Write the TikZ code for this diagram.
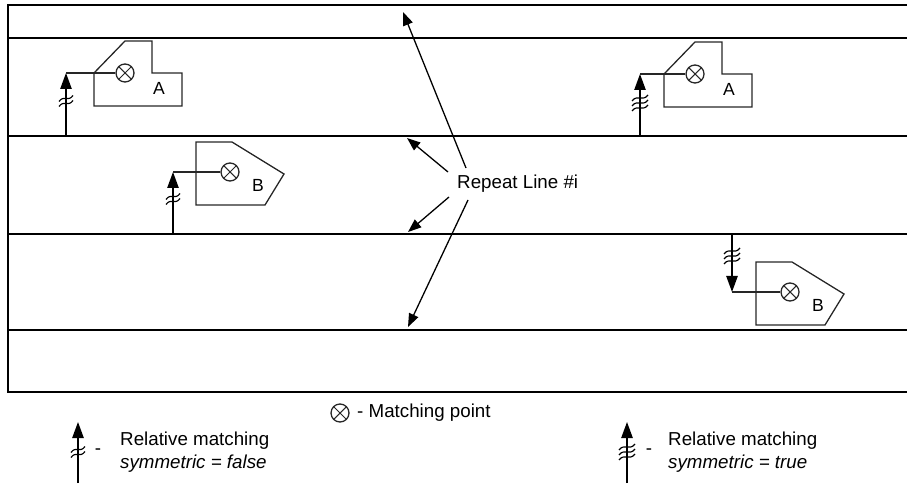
\documentclass[tikz,border=0pt]{standalone}
\usepackage{fontspec}
\setmainfont{Liberation Sans}
\usetikzlibrary{arrows.meta,positioning,calc}

\tikzset{
  rline/.style={line width=1.6pt},
  outline/.style={draw=black!85, line width=1.1pt},
  conn/.style={draw=black!85, line width=1.1pt},
  relarrow/.style={line width=1.3pt, -{Triangle[length=0.48cm,width=0.34cm]}},
  rarrow/.style={line width=1.1pt, -{Triangle[length=0.4cm,width=0.3cm]}},
  mpoint/.style={circle, draw=black!85, line width=1.1pt, minimum size=0.54cm, inner sep=0pt,
    path picture={\draw[line width=0.9pt]
      (path picture bounding box.south west) -- (path picture bounding box.north east)
      (path picture bounding box.north west) -- (path picture bounding box.south east);}},
  letter/.style={font=\fontsize{15}{17}\selectfont, inner sep=0pt},
  txt/.style={font=\fontsize{16}{20}\selectfont, inner sep=0pt},
  brk/.style={line width=1pt},
  partA/.pic={
    \draw[outline] (-31,0) -- (0,-32) -- (27,-32) -- (27,0) -- (57,0) -- (57,33) -- (-31,33) -- cycle;
    \node[mpoint] (-mp) at (0,0) {};
    \node[letter] (-lbl) at (34,15) {A};
  },
  partB/.pic={
    \draw[outline] (-34,-30) -- (2,-30) -- (54,2) -- (35,33) -- (-34,33) -- cycle;
    \node[mpoint] (-mp) at (0,0) {};
    \node[letter] (-lbl) at (28,13) {B};
  },
  brkf/.pic={
    \foreach \k in {-2.5,2.5}
      \draw[brk] (-7,3+\k) .. controls (-2,-4+\k) and (2,4+\k) .. (7,-3+\k);
  },
  brkt/.pic={
    \foreach \k in {-5,0,5}
      \draw[brk] (-8,3+\k) .. controls (-3,-4+\k) and (3,4+\k) .. (8,-3+\k);
  },
}

\begin{document}
\begin{tikzpicture}[x=0.03cm, y=-0.03cm]
\useasboundingbox (0,0) rectangle (907,487);

% frame and repeat lines
\draw[rline] (907,5) -- (8,5) -- (8,392) -- (907,392);
\foreach \y in {38,136,234,330}
  \draw[rline] (8,\y) -- (907,\y);

% parts
\pic (a1) at (125,73) {partA};
\pic (a2) at (695,74) {partA};
\pic (b1) at (230,172) {partB};
\pic (b2) at (790,292) {partB};

% relative matching, symmetric = false
\coordinate (a1c) at (66,73);
\coordinate (a1r) at (66,136);
\draw[relarrow] (a1r) -- (a1c);
\draw[conn] (a1c) -- (a1-mp);
\pic at (66,101) {brkf};

\coordinate (b1c) at (173,172);
\coordinate (b1r) at (173,234);
\draw[relarrow] (b1r) -- (b1c);
\draw[conn] (b1c) -- (b1-mp);
\pic at (173,199) {brkf};

% relative matching, symmetric = true
\coordinate (a2c) at (640,74);
\coordinate (a2r) at (640,136);
\draw[relarrow] (a2r) -- (a2c);
\draw[conn] (a2c) -- (a2-mp);
\pic at (640,103) {brkt};

\coordinate (b2c) at (732,292);
\coordinate (b2r) at (732,234);
\draw[relarrow] (b2r) -- (b2c);
\draw[conn] (b2c) -- (b2-mp);
\pic at (732,256) {brkt};

% repeat line label
\node[txt, anchor=west] (rl) at (457,184) {Repeat Line \#i};
\coordinate (t1) at (403,12);
\coordinate (t2) at (407,138);
\coordinate (t3) at (408,232);
\coordinate (t4) at (408,327);
\draw[rarrow] ([shift={(9,-16)}]rl.west) -- (t1);
\draw[rarrow] ([shift={(-9,-12)}]rl.west) -- (t2);
\draw[rarrow] ([shift={(-8,13)}]rl.west) -- (t3);
\draw[rarrow] ([shift={(11,16)}]rl.west) -- (t4);

% legend
\node[mpoint] (lmp) at (340,413) {};
\node[txt, anchor=west] (lmptxt) at (357,413) {- Matching point};

\coordinate (lfb) at (78,483);
\coordinate (lft) at (78,422);
\draw[relarrow] (lfb) -- (lft);
\pic at (78,452) {brkf};
\node[txt] (lfdash) at (98,452) {-};
\node[txt, anchor=west, align=left] (lftxt) at (120,452) {Relative matching\\\textit{symmetric = false}};

\coordinate (ltb) at (627,483);
\coordinate (ltt) at (627,422);
\draw[relarrow] (ltb) -- (ltt);
\pic at (627,452) {brkt};
\node[txt] (ltdash) at (649,452) {-};
\node[txt, anchor=west, align=left] (lttxt) at (668,452) {Relative matching\\\textit{symmetric = true}};

\end{tikzpicture}
\end{document}
